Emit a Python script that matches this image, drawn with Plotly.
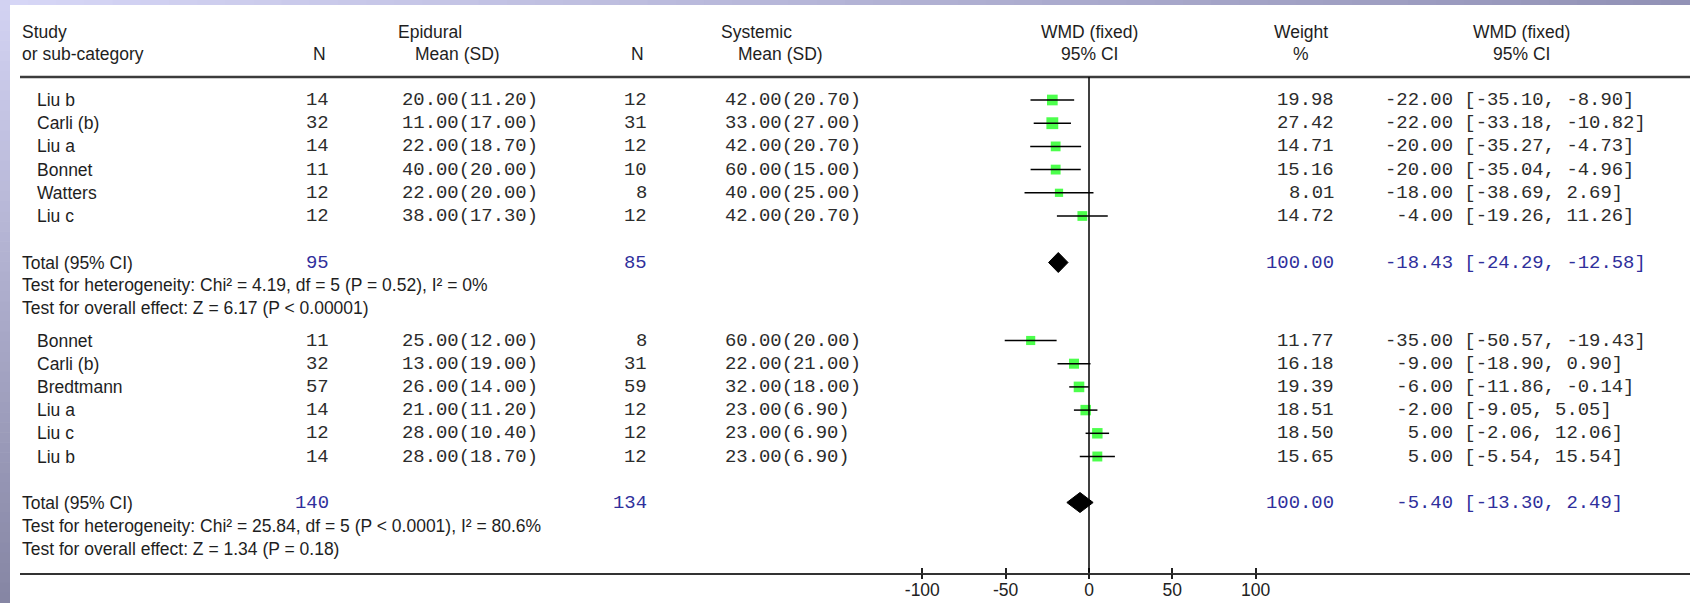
import plotly.graph_objects as go

W, H = 1690, 603

# ---------------- data ----------------
g1_study = ["Liu b", "Carli (b)", "Liu a", "Bonnet", "Watters", "Liu c"]
g1_n_epi = [14, 32, 14, 11, 12, 12]
g1_mean_epi = [20.00, 11.00, 22.00, 40.00, 22.00, 38.00]
g1_sd_epi = [11.20, 17.00, 18.70, 20.00, 20.00, 17.30]
g1_n_sys = [12, 31, 12, 10, 8, 12]
g1_mean_sys = [42.00, 33.00, 42.00, 60.00, 40.00, 42.00]
g1_sd_sys = [20.70, 27.00, 20.70, 15.00, 25.00, 20.70]
g1_weight = [19.98, 27.42, 14.71, 15.16, 8.01, 14.72]
g1_wmd = [-22.00, -22.00, -20.00, -20.00, -18.00, -4.00]
g1_lo = [-35.10, -33.18, -35.27, -35.04, -38.69, -19.26]
g1_hi = [-8.90, -10.82, -4.73, -4.96, 2.69, 11.26]
g1_total_n = [95, 85]
g1_total_weight = 100.00
g1_total = [-18.43, -24.29, -12.58]
g1_het = "Test for heterogeneity: Chi² = 4.19, df = 5 (P = 0.52), I² = 0%"
g1_overall = "Test for overall effect: Z = 6.17 (P < 0.00001)"

g2_study = ["Bonnet", "Carli (b)", "Bredtmann", "Liu a", "Liu c", "Liu b"]
g2_n_epi = [11, 32, 57, 14, 12, 14]
g2_mean_epi = [25.00, 13.00, 26.00, 21.00, 28.00, 28.00]
g2_sd_epi = [12.00, 19.00, 14.00, 11.20, 10.40, 18.70]
g2_n_sys = [8, 31, 59, 12, 12, 12]
g2_mean_sys = [60.00, 22.00, 32.00, 23.00, 23.00, 23.00]
g2_sd_sys = [20.00, 21.00, 18.00, 6.90, 6.90, 6.90]
g2_weight = [11.77, 16.18, 19.39, 18.51, 18.50, 15.65]
g2_wmd = [-35.00, -9.00, -6.00, -2.00, 5.00, 5.00]
g2_lo = [-50.57, -18.90, -11.86, -9.05, -2.06, -5.54]
g2_hi = [-19.43, 0.90, -0.14, 5.05, 12.06, 15.54]
g2_total_n = [140, 134]
g2_total_weight = 100.00
g2_total = [-5.40, -13.30, 2.49]
g2_het = "Test for heterogeneity: Chi² = 25.84, df = 5 (P < 0.0001), I² = 80.6%"
g2_overall = "Test for overall effect: Z = 1.34 (P = 0.18)"

tick_vals = [-100, -50, 0, 50, 100]
tick_labels = ["-100", "-50", "0", "50", "100"]

header1 = ["Study", "Epidural", "Systemic", "WMD (fixed)", "Weight", "WMD (fixed)"]
header2 = ["or sub-category", "N", "Mean (SD)", "N", "Mean (SD)", "95% CI", "%", "95% CI"]

# ---------------- layout geometry (pixels) ----------------
PX_PER_UNIT = 250.0 / 150.0
ZERO_PX = 1089.0
AXIS_LEFT = 20.0
AXIS_Y = 572.5
RULE_Y = 77.0
ROW = 23.2

SANS = "Liberation Sans, Arial, sans-serif"
MONO = "Liberation Mono, Courier New, monospace"
SANS_SIZE = 17.5
MONO_SIZE = 18.9
TXT = "#1e1e1e"
MTXT = "#2c2c2c"
BLUE = "#2f2f9c"

g1_rows = [100 + ROW * i for i in range(6)]
g1_total_y, g1_het_y, g1_over_y = 262.5, 285.0, 308.0
g2_rows = [340.5 + ROW * i for i in range(6)]
g2_total_y, g2_het_y, g2_over_y = 502.5, 526.0, 549.0

X_STUDY = 35
X_LEFT = 20
X_NEPI_R = 331
X_MEPI_L = 400
X_NSYS_R = 649
X_MSYS_L = 723
X_W_R = 1336
X_CI_L = 1383

fig = go.Figure()

x_lo = (AXIS_LEFT - ZERO_PX) / PX_PER_UNIT
x_hi = (W - ZERO_PX) / PX_PER_UNIT
ydom0 = (H - AXIS_Y) / H

ann = []


def text(xpx, y, s, anchor="left", font=SANS, size=None, color=None):
    if size is None:
        size = SANS_SIZE if font == SANS else MONO_SIZE
    if color is None:
        color = TXT if font == SANS else MTXT
    ann.append(dict(x=xpx / W, xref="paper", y=y, yref="y", text=s, showarrow=False,
                    xanchor=anchor, yanchor="middle",
                    font=dict(family=font, size=size, color=color)))


def nb(s):
    return s.replace(" ", "\u00a0")


# headers
H1, H2 = 32, 54
text(X_LEFT, H1, header1[0])
text(X_MEPI_L - 4, H1, header1[1])
text(X_MSYS_L - 4, H1, header1[2])
text(ZERO_PX, H1, header1[3], anchor="center")
text(1301, H1, header1[4], anchor="center")
text(1521, H1, header1[5], anchor="center")
text(X_LEFT, H2, header2[0])
text(X_NEPI_R - 12, H2, header2[1], anchor="center")
text(X_MEPI_L + 13, H2, header2[2])
text(X_NSYS_R - 12, H2, header2[3], anchor="center")
text(X_MSYS_L + 13, H2, header2[4])
text(ZERO_PX, H2, header2[5], anchor="center")
text(1301, H2, header2[6], anchor="center")
text(1521, H2, header2[7], anchor="center")


def group_text(rows, study, ne, me, se, ns, ms, ss, w, e, lo, hi,
               tot_y, tot_n, tot_w, tot, het_y, het, ov_y, ov):
    for i, y in enumerate(rows):
        text(X_STUDY, y, study[i])
        text(X_NEPI_R, y, str(ne[i]), anchor="right", font=MONO)
        text(X_MEPI_L, y, f"{me[i]:.2f}({se[i]:.2f})", font=MONO)
        text(X_NSYS_R, y, str(ns[i]), anchor="right", font=MONO)
        text(X_MSYS_L, y, f"{ms[i]:.2f}({ss[i]:.2f})", font=MONO)
        text(X_W_R, y, f"{w[i]:.2f}", anchor="right", font=MONO)
        text(X_CI_L, y, nb(f"{e[i]:6.2f} [{lo[i]:.2f}, {hi[i]:.2f}]"), font=MONO)
    text(X_LEFT, tot_y, "Total (95% CI)")
    text(X_NEPI_R, tot_y, str(tot_n[0]), anchor="right", font=MONO, color=BLUE)
    text(X_NSYS_R, tot_y, str(tot_n[1]), anchor="right", font=MONO, color=BLUE)
    text(X_W_R, tot_y, f"{tot_w:.2f}", anchor="right", font=MONO, color=BLUE)
    text(X_CI_L, tot_y, nb(f"{tot[0]:6.2f} [{tot[1]:.2f}, {tot[2]:.2f}]"), font=MONO, color=BLUE)
    text(X_LEFT, het_y, het)
    text(X_LEFT, ov_y, ov)


group_text(g1_rows, g1_study, g1_n_epi, g1_mean_epi, g1_sd_epi, g1_n_sys, g1_mean_sys, g1_sd_sys,
           g1_weight, g1_wmd, g1_lo, g1_hi, g1_total_y, g1_total_n, g1_total_weight, g1_total,
           g1_het_y, g1_het, g1_over_y, g1_overall)
group_text(g2_rows, g2_study, g2_n_epi, g2_mean_epi, g2_sd_epi, g2_n_sys, g2_mean_sys, g2_sd_sys,
           g2_weight, g2_wmd, g2_lo, g2_hi, g2_total_y, g2_total_n, g2_total_weight, g2_total,
           g2_het_y, g2_het, g2_over_y, g2_overall)

# ---------------- marks ----------------
rows_all = g1_rows + g2_rows
wmd_all = g1_wmd + g2_wmd
lo_all = g1_lo + g2_lo
hi_all = g1_hi + g2_hi
w_all = g1_weight + g2_weight

fig.add_trace(go.Scatter(
    x=wmd_all, y=rows_all, mode="markers",
    marker=dict(symbol="square", color="#00ff00",
                size=[4 + 1.5 * (w ** 0.5) for w in w_all], line=dict(width=0)),
    hoverinfo="skip", showlegend=False))

lx, ly = [], []
for y, lo, hi in zip(rows_all, lo_all, hi_all):
    lx += [lo, hi, None]
    ly += [y, y, None]
fig.add_trace(go.Scatter(x=lx, y=ly, mode="lines", line=dict(color="#000000", width=1.5),
                         hoverinfo="skip", showlegend=False))

for tot, ty in [(g1_total, g1_total_y), (g2_total, g2_total_y)]:
    est, lo, hi = tot
    fig.add_trace(go.Scatter(x=[lo, est, hi, est, lo], y=[ty, ty - 10, ty, ty + 10, ty],
                             mode="lines", fill="toself", fillcolor="#000000",
                             line=dict(color="#000000", width=1),
                             hoverinfo="skip", showlegend=False))

# ---------------- shapes ----------------
shapes = []
N = 60
c0, c1 = (214, 214, 246), (146, 146, 182)
for i in range(N):
    t = i / (N - 1)
    col = tuple(round(c0[k] + (c1[k] - c0[k]) * t) for k in range(3))
    shapes.append(dict(type="rect", xref="paper", yref="paper",
                       x0=i / N, x1=(i + 1) / N + 0.001, y0=1 - 5 / H, y1=1,
                       fillcolor=f"rgb{col}", line=dict(width=0), layer="below"))
c0, c1 = (210, 210, 242), (134, 134, 164)
for i in range(N):
    t = i / (N - 1)
    col = tuple(round(c0[k] + (c1[k] - c0[k]) * t) for k in range(3))
    shapes.append(dict(type="rect", xref="paper", yref="paper",
                       x0=0, x1=10 / W, y0=1 - (i + 1) / N - 0.001, y1=1 - i / N,
                       fillcolor=f"rgb{col}", line=dict(width=0), layer="below"))
shapes.append(dict(type="line", xref="paper", yref="y", x0=AXIS_LEFT / W, x1=1, y0=RULE_Y, y1=RULE_Y,
                   line=dict(color="#3c3c3c", width=2.5)))
shapes.append(dict(type="line", xref="x", yref="y", x0=0, x1=0, y0=RULE_Y, y1=AXIS_Y,
                   line=dict(color="#000000", width=1.5)))

fig.update_layout(
    width=W, height=H,
    margin=dict(l=0, r=0, t=0, b=0),
    paper_bgcolor="white", plot_bgcolor="rgba(0,0,0,0)",
    showlegend=False,
    annotations=ann, shapes=shapes,
    xaxis=dict(domain=[AXIS_LEFT / W, 1], range=[x_lo, x_hi], showgrid=False, zeroline=False,
               showline=True, linecolor="#333333", linewidth=2,
               tickmode="array", tickvals=tick_vals, ticktext=tick_labels,
               ticks="inside", ticklen=5, tickwidth=1.5, tickcolor="#222222",
               ticklabelstandoff=0,
               tickfont=dict(family=SANS, size=SANS_SIZE, color="#222222"), fixedrange=True),
    xaxis2=dict(domain=[AXIS_LEFT / W, 1], range=[x_lo, x_hi], overlaying="x", anchor="y",
                side="bottom", showgrid=False, zeroline=False, showline=False,
                tickmode="array", tickvals=tick_vals, showticklabels=False,
                ticks="outside", ticklen=5, tickwidth=1.5, tickcolor="#222222"),
    yaxis=dict(domain=[ydom0, 1], range=[AXIS_Y, 0], visible=False, fixedrange=True),
)
fig.add_trace(go.Scatter(x=[0], y=[AXIS_Y], xaxis="x2", mode="markers",
                         marker=dict(opacity=0), hoverinfo="skip", showlegend=False))

fig.write_html("out.html", config={"displayModeBar": False})
